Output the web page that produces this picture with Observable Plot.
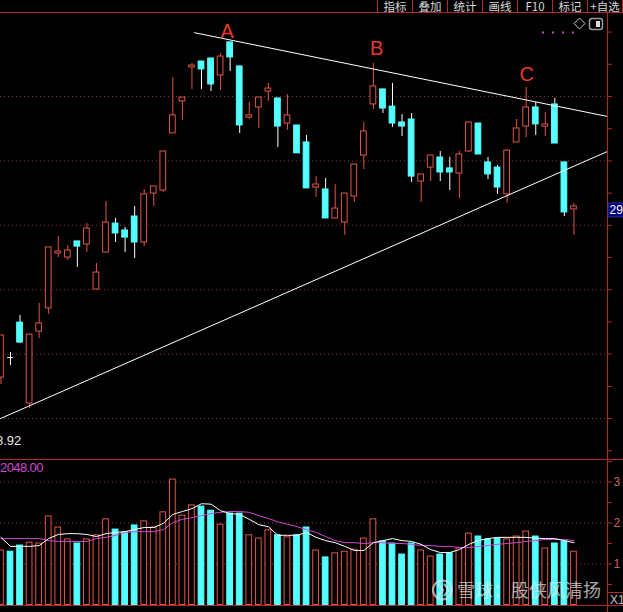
<!DOCTYPE html>
<html>
<head>
<meta charset="utf-8">
<script src="https://cdn.jsdelivr.net/npm/d3@7"></script>
<script src="https://cdn.jsdelivr.net/npm/@observablehq/plot@0.6"></script>
<style>
html, body { margin: 0; padding: 0; background: #000; }
#wrap { position: relative; width: 623px; height: 612px; overflow: hidden; background: #000; }
#wrap > svg { position: absolute; left: 0; max-width: none; }
</style>
</head>
<body>
<div id="wrap"></div>
<script>
// ---------- data ----------
const OPEN  = [20.91,21.84,23.47,19.70,23.05,24.13,26.69,26.50,27.25,27.11,
               25.01,26.73,28.08,27.76,28.41,27.20,29.48,29.62,32.28,33.77,
               35.35,35.63,35.77,34.98,36.52,35.40,33.02,33.49,34.23,33.91,
               32.74,32.65,31.86,29.76,29.67,28.32,28.13,29.34,31.25,33.63,
               34.33,33.53,32.79,32.93,30.04,30.69,31.16,30.65,30.41,31.44,
               32.74,30.93,30.69,29.44,31.86,32.60,33.49,32.60,33.63,30.93,28.74];
const CLOSE = [22.87,21.84,22.54,22.91,23.43,26.97,26.78,26.83,27.01,27.85,
               25.80,28.13,27.62,27.43,27.20,29.44,29.81,31.44,33.12,33.95,
               35.44,35.26,34.56,35.86,35.82,32.65,33.12,33.95,34.37,32.60,
               33.12,31.35,29.72,29.90,28.32,28.78,29.48,30.83,32.37,34.47,
               33.44,32.74,32.60,30.27,30.37,31.25,30.46,30.46,31.30,32.79,
               31.30,30.37,29.76,31.48,32.51,33.49,32.70,32.70,31.81,28.60,28.88];
const HIGH  = [22.87,22.08,23.80,22.91,24.36,26.97,27.48,27.06,27.25,28.08,
               26.22,29.11,28.32,27.90,28.88,29.67,29.81,31.44,34.88,33.95,
               35.54,35.63,35.77,36.00,36.52,35.40,33.72,33.95,34.61,33.91,
               34.09,32.65,32.18,30.27,30.18,29.90,29.48,30.83,32.79,35.54,
               34.33,34.61,33.16,33.21,30.37,31.25,31.44,31.16,31.44,32.79,
               32.74,31.16,30.79,31.53,32.93,34.42,33.72,33.25,33.91,30.93,29.02];
const LOW   = [20.59,21.47,22.50,19.47,22.73,23.85,26.50,26.36,26.04,26.73,
               25.01,26.73,27.20,26.73,26.45,27.01,28.88,29.53,32.28,32.88,
               34.33,34.33,34.23,34.28,35.16,32.28,32.93,32.51,33.77,31.62,
               32.42,31.35,29.72,29.30,28.32,28.32,27.53,29.06,30.60,33.39,
               33.21,32.56,32.14,29.99,29.06,30.04,30.04,29.62,29.25,31.39,
               31.30,30.13,29.44,29.02,31.86,32.09,32.18,32.14,31.81,28.41,27.53];
const VOLUME = [1.33,1.30,1.45,1.52,1.50,2.16,1.89,1.60,1.50,1.60,
                1.70,2.09,1.84,1.77,1.94,2.04,1.89,2.26,3.06,2.18,
                2.43,2.40,2.30,1.96,2.23,2.23,1.70,1.62,1.82,1.70,
                1.65,1.70,1.89,1.33,1.16,1.26,1.30,1.35,1.62,2.09,
                1.55,1.50,1.23,1.50,1.33,1.18,1.23,1.26,1.38,1.74,
                1.67,1.60,1.62,1.60,1.67,1.79,1.67,1.38,1.50,1.55,1.30];
const VOL_MA5 = [1.65,1.43,1.43,1.43,1.45,1.62,1.72,1.74,1.74,1.72,
                 1.67,1.74,1.77,1.79,1.84,1.89,1.89,1.99,2.21,2.28,
                 2.35,2.47,2.46,2.30,2.23,2.21,2.09,1.96,1.91,1.70,
                 1.70,1.70,1.77,1.65,1.57,1.52,1.43,1.33,1.33,1.52,
                 1.57,1.62,1.57,1.55,1.48,1.35,1.28,1.28,1.35,1.48,
                 1.57,1.62,1.65,1.65,1.65,1.65,1.63,1.62,1.62,1.57,1.52];
const VOL_MA10 = [1.62,1.62,1.62,1.62,1.62,1.57,1.55,1.55,1.55,1.55,
                  1.62,1.65,1.70,1.77,1.79,1.79,1.79,1.84,2.01,2.09,
                  2.13,2.18,2.23,2.26,2.28,2.28,2.26,2.18,2.11,2.03,
                  1.97,1.91,1.84,1.77,1.67,1.57,1.52,1.52,1.50,1.52,
                  1.52,1.50,1.50,1.48,1.45,1.45,1.43,1.43,1.40,1.40,
                  1.43,1.45,1.48,1.50,1.52,1.55,1.57,1.60,1.60,1.60,1.57];

// trend lines (index, price)
const UPPER_TREND_I = [20.27, 63.51];
const UPPER_TREND_P = [36.97, 33.07];
const LOWER_TREND_I = [-0.05, 63.51];
const LOWER_TREND_P = [19.00, 31.44];

// pattern labels
const PEAK_LABELS = ["A", "B", "C"];
const PEAK_I = [23.69, 39.35, 55.05];
const PEAK_P = [37.00, 36.23, 35.02];

// scales / ticks
const X_DOMAIN = [-0.0471, 63.513];
const PRICE_DOMAIN = [17.093, 37.819];
const PRICE_GRID = [19, 22, 25, 28, 31, 34];
const PRICE_TICKS = [17.5, 19, 20.5, 22, 23.5, 25, 26.5, 28, 29.5, 31, 32.5, 34, 35.5, 37];
const VOL_DOMAIN = [-0.183, 3.549];
const VOL_GRID = [1, 2, 3];
const VOL_TICKS = [0.5, 1, 1.5, 2, 2.5, 3, 3.5];
const VOL_TICK_LABELS = {1: "1", 2: "2", 3: "3"};

// texts
const TOOLBAR_LABELS = ["指标", "叠加", "统计", "画线", "F10", "标记", "+自选"];
const TOOLBAR_EDGES = [377, 412, 447, 482, 517, 552, 587, 622];
const LAST_PRICE_LABEL = "29";
const LOW_PRICE_LABEL = "8.92";
const VOLUME_LABEL = "2048.00";
const VOL_UNIT_LABEL = "X1";
const WATERMARK = "雪球：股侠风清扬";

// colours
const RED = "#e05548";
const CYAN = "#54ffff";
const FRAME = "#b02828";
const GRID = "#8c3c30";
const MAGENTA = "#d048d0";
const LABEL_RED = "#e8392c";

// ---------- build ----------
const N = OPEN.length;
const candles = d3.range(N).map(i => ({
  i, o: OPEN[i], h: HIGH[i], l: LOW[i], c: CLOSE[i],
  v: VOLUME[i], ma5: VOL_MA5[i], ma10: VOL_MA10[i]
}));
const dir = d => d.c > d.o ? 1 : d.c < d.o ? -1 : 0;
const HW = 0.3;

const upper = UPPER_TREND_I.map((i, k) => ({i, p: UPPER_TREND_P[k]}));
const lower = LOWER_TREND_I.map((i, k) => ({i, p: LOWER_TREND_P[k]}));
const peaks = PEAK_LABELS.map((t, k) => ({t, i: PEAK_I[k], p: PEAK_P[k]}));

const wrap = document.getElementById("wrap");

const pricePlot = Plot.plot({
  width: 623, height: 445,
  marginTop: 0, marginBottom: 0, marginLeft: 0, marginRight: 16,
  x: {domain: X_DOMAIN, axis: null},
  y: {domain: PRICE_DOMAIN},
  color: {type: "identity"},
  style: {background: "transparent", color: "#fff", fontFamily: "Liberation Sans, sans-serif", overflow: "hidden"},
  marks: [
    Plot.ruleY(PRICE_GRID, {stroke: GRID, strokeDasharray: "1,3"}),
    Plot.axisY({anchor: "right", ticks: PRICE_TICKS, tickSize: 4, tickFormat: () => "", stroke: FRAME}),
    Plot.ruleX(candles, {x: "i", y1: "l", y2: "h", stroke: d => dir(d) > 0 ? RED : "#ffffff", strokeWidth: 1}),
    Plot.rect(candles.filter(d => dir(d) !== 0), {
      x1: d => d.i - HW, x2: d => d.i + HW, y1: "o", y2: "c",
      fill: d => dir(d) > 0 ? "#000000" : CYAN,
      stroke: d => dir(d) > 0 ? RED : CYAN, strokeWidth: 1
    }),
    Plot.ruleY(candles.filter(d => dir(d) === 0), {y: "o", x1: d => d.i - HW, x2: d => d.i + HW, stroke: "#ffffff"}),
    Plot.line(upper, {x: "i", y: "p", stroke: "#ffffff", strokeWidth: 1}),
    Plot.line(lower, {x: "i", y: "p", stroke: "#ffffff", strokeWidth: 1}),
    Plot.text(peaks, {x: "i", y: "p", text: "t", fill: LABEL_RED, fontSize: 20, fontFamily: "Liberation Sans, sans-serif"})
  ]
});
pricePlot.style.top = "14px";
wrap.appendChild(pricePlot);

const volPlot = Plot.plot({
  width: 623, height: 153,
  marginTop: 0, marginBottom: 0, marginLeft: 0, marginRight: 16,
  x: {domain: X_DOMAIN, axis: null},
  y: {domain: VOL_DOMAIN},
  color: {type: "identity"},
  style: {background: "transparent", color: "#fff", fontFamily: "Liberation Sans, sans-serif", overflow: "hidden"},
  marks: [
    Plot.ruleY(VOL_GRID, {stroke: GRID, strokeDasharray: "1,3"}),
    Plot.axisY({anchor: "right", ticks: VOL_TICKS, tickSize: 4, tickPadding: 2,
      tickFormat: d => VOL_TICK_LABELS[d] || "", stroke: FRAME, fill: "#d06060", fontSize: 12}),
    Plot.rect(candles, {
      x1: d => d.i - HW, x2: d => d.i + HW, y1: 0, y2: "v",
      fill: d => dir(d) > 0 ? "#000000" : CYAN,
      stroke: d => dir(d) > 0 ? RED : CYAN, strokeWidth: 1
    }),
    Plot.line(candles, {x: "i", y: "ma10", stroke: MAGENTA, strokeWidth: 1}),
    Plot.line(candles, {x: "i", y: "ma5", stroke: "#ffffff", strokeWidth: 1})
  ]
});
volPlot.style.top = "459px";
wrap.appendChild(volPlot);

// ---------- overlay: frame, toolbar, labels ----------
const ov = d3.select(wrap).append("svg")
  .attr("width", 623).attr("height", 612)
  .style("top", "0px").style("pointer-events", "none");

const hline = (y, x1, x2) => ov.append("line").attr("x1", x1).attr("x2", x2).attr("y1", y).attr("y2", y).attr("stroke", FRAME);
const vline = (x, y1, y2) => ov.append("line").attr("x1", x).attr("x2", x).attr("y1", y1).attr("y2", y2).attr("stroke", FRAME);

hline(12.5, 0, 623);
hline(459.5, 0, 623);
hline(605.5, 0, 623);
hline(592.5, 607, 623);
vline(607.5, 12.5, 612);
TOOLBAR_EDGES.forEach(x => vline(x + 0.5, 0, 12.5));

TOOLBAR_LABELS.forEach((t, k) => {
  ov.append("text")
    .attr("x", (TOOLBAR_EDGES[k] + TOOLBAR_EDGES[k + 1]) / 2 + 0.5)
    .attr("y", 10.5)
    .attr("text-anchor", "middle")
    .attr("fill", "#d8d8d8")
    .attr("font-family", "Noto Sans CJK SC, sans-serif")
    .attr("font-size", 11.5)
    .text(t);
});

// icons top-right
ov.append("polygon").attr("points", "579.5,18 585,23.5 579.5,29 574,23.5")
  .attr("fill", "none").attr("stroke", "#d0d0d0").attr("stroke-width", 1);
ov.append("rect").attr("x", 589.5).attr("y", 18.5).attr("width", 13).attr("height", 11).attr("rx", 2.5)
  .attr("fill", "none").attr("stroke", "#9a9a9a").attr("stroke-width", 1.5);
ov.append("rect").attr("x", 596).attr("y", 21).attr("width", 4).attr("height", 6).attr("fill", "#dedede");
[543, 553, 563, 573].forEach(x => ov.append("rect").attr("x", x - 1).attr("y", 31.5).attr("width", 2).attr("height", 2).attr("fill", MAGENTA));

// last price tag
const yLast = pricePlot.scale("y").apply(CLOSE[N - 1]) + 14 + 4;
ov.append("rect").attr("x", 608).attr("y", yLast - 7).attr("width", 16).attr("height", 14)
  .attr("fill", "#00007a").attr("stroke", "#3030a0");
ov.append("text").attr("x", 609.5).attr("y", yLast + 4.5).attr("fill", "#ffffff")
  .attr("font-family", "Liberation Sans, sans-serif").attr("font-size", 12).text(LAST_PRICE_LABEL);

// low price label
ov.append("text").attr("x", -4).attr("y", 445).attr("fill", "#e8e8e8")
  .attr("font-family", "Liberation Sans, sans-serif").attr("font-size", 13).text(LOW_PRICE_LABEL);

// volume label
ov.append("text").attr("x", 0).attr("y", 472).attr("fill", MAGENTA)
  .attr("font-family", "Liberation Sans, sans-serif").attr("font-size", 13)
  .attr("letter-spacing", "-0.6").text(VOLUME_LABEL);

// unit label
ov.append("text").attr("x", 610).attr("y", 604).attr("fill", "#c0c0c0")
  .attr("font-family", "Liberation Sans, sans-serif").attr("font-size", 12).text(VOL_UNIT_LABEL);

// watermark
const wm = ov.append("g").attr("opacity", 0.7);
wm.append("circle").attr("cx", 442.5).attr("cy", 590).attr("r", 9.5)
  .attr("fill", "none").attr("stroke", "#e0e0e0").attr("stroke-width", 2.2);
wm.append("path").attr("d", "M438,584 L443,590 L438,596 M444,584 L449,590 L444,596")
  .attr("fill", "none").attr("stroke", "#e0e0e0").attr("stroke-width", 2);
wm.append("text").attr("x", 457).attr("y", 596.5).attr("fill", "#e8e8e8")
  .attr("font-family", "Noto Sans CJK SC, sans-serif").attr("font-size", 18)
  .text(WATERMARK);
</script>
</body>
</html>
